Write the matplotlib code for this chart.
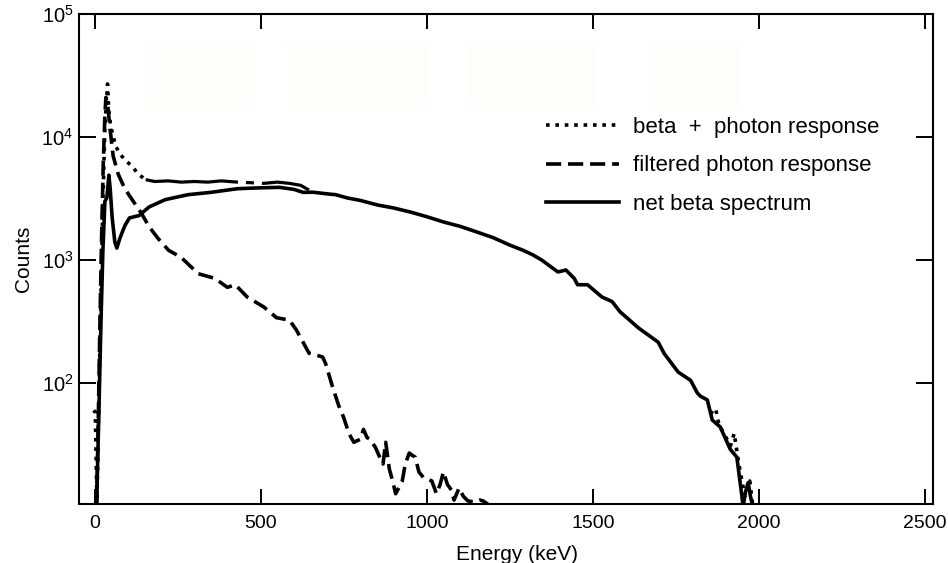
import matplotlib
matplotlib.use("Agg")
import matplotlib.pyplot as plt
from matplotlib.lines import Line2D
from matplotlib.patches import Rectangle
from matplotlib.ticker import LogLocator, NullLocator

plt.rcParams['font.family'] = ['Liberation Sans', 'DejaVu Sans']

# beta + photon response (dotted)
tot_e = [-4, 1, 6, 12, 18, 24, 30, 35, 38, 42, 48, 53, 62, 74, 90, 112, 130, 153,
         180, 220, 260, 300, 340, 380, 429, 470, 508, 550, 586, 620, 645]
tot_c = [60, 58, 11, 80, 500, 3000, 12000, 20000, 27000, 16000, 12000, 10700, 8500,
         7400, 6500, 5800, 5000, 4500, 4350, 4400, 4300, 4350, 4300, 4400, 4300,
         4250, 4200, 4300, 4200, 4050, 3700]
# dotted points visible at the high-energy end
tail_e = [1855, 1862, 1870, 1880, 1915, 1926, 1940, 1958, 1966, 1973, 1982]
tail_c = [56, 60, 62, 46, 31, 39, 22, 12, 13, 16, 10]

# filtered photon response (dashed)
pho_e = [5, 10, 15, 20, 25, 30, 33, 38, 45, 55, 70, 90, 112, 140, 163, 190, 222,
         260, 311, 361, 399, 423, 459, 509, 547, 586, 607, 645, 686, 695, 716, 735,
         750, 765, 780, 800, 809, 820, 829, 845, 858, 868, 876, 887, 897, 906, 915,
         926, 935, 947, 955, 965, 976, 990, 1015, 1029, 1040, 1050, 1062, 1074, 1082,
         1097, 1110, 1124, 1145, 1160, 1170, 1185]
pho_c = [10, 50, 300, 1500, 6000, 15000, 21000, 19000, 12000, 7000, 5000, 3800,
         3100, 2400, 1870, 1500, 1200, 1050, 775, 710, 600, 630, 500, 415, 340, 325,
         270, 175, 163, 144, 93, 65, 52, 39, 33, 35, 42, 36, 35, 30, 25, 22, 33, 20,
         16, 12.6, 14, 16, 22, 27, 26, 25, 19, 17, 16, 12.6, 15, 19, 15, 13.5, 11.2,
         14, 12, 11, 10.8, 11.2, 11, 10.3]

# net beta spectrum (solid)
net_e = [5, 12, 18, 24, 30, 36, 42, 46, 52, 60, 66, 75, 90, 104, 133, 163, 212,
         281, 349, 429, 480, 556, 600, 627, 657, 700, 725, 760, 800, 852, 900, 952,
         1000, 1050, 1100, 1148, 1200, 1248, 1290, 1320, 1346, 1395, 1419, 1444,
         1454, 1484, 1528, 1558, 1582, 1638, 1668, 1697, 1715, 1757, 1795, 1815,
         1825, 1845, 1860, 1884, 1914, 1934, 1944, 1953, 1960, 1968, 1975, 1982]
net_c = [10, 60, 300, 1200, 3000, 3200, 4900, 3800, 2200, 1400, 1250, 1500, 1900,
         2200, 2300, 2700, 3100, 3400, 3550, 3800, 3850, 3900, 3750, 3550, 3560, 3450,
         3400, 3200, 3050, 2800, 2650, 2450, 2250, 2040, 1880, 1700, 1520, 1330, 1200,
         1100, 1000, 800, 830, 710, 630, 630, 500, 460, 380, 280, 245, 215, 174, 123,
         105, 83, 78, 73, 50, 44, 29, 25, 15.5, 10, 13, 15.5, 12, 10]

LW = 2.6
fig = plt.figure(figsize=(9.48, 5.63), dpi=100)
ax = fig.add_axes([79 / 948, 1 - 504 / 563, 854 / 948, 490 / 563])
ax.set_facecolor('none')

# very faint blank boxes near the top of the scan
for x0, x1 in [(146, 250), (288, 425), (470, 595), (650, 740)]:
    fig.add_artist(Rectangle((x0 / 948, 1 - 108 / 563), (x1 - x0) / 948, 66 / 563,
                             transform=fig.transFigure, color='#fffdfa', zorder=-1))

dot_style = dict(color='black', lw=LW, linestyle=(0, (1, 1.6)))
dash_style = dict(color='black', lw=LW, linestyle=(0, (4.2, 1.9)))
solid_style = dict(color='black', lw=LW, linestyle='-')

# in the scan the dots of the plateau run together into a line
k = tot_e.index(153)
ax.plot(tot_e[:k + 1], tot_c[:k + 1], **dot_style)
ax.plot(tot_e[k:], tot_c[k:], color='black', lw=LW - 0.3,
        linestyle=(0, (29, 2.5, 2.5, 2.5, 300)))
ax.plot(tail_e, tail_c, **dot_style)
ax.plot(pho_e, pho_c, **dash_style)
ax.plot(net_e, net_c, **solid_style)

ax.set_yscale('log')
ax.set_xlim(-48, 2525)
ax.set_ylim(10.4, 1e5)
ax.set_xticks([0, 500, 1000, 1500, 2000, 2500])
ax.yaxis.set_major_locator(LogLocator(base=10))
ax.yaxis.set_minor_locator(NullLocator())

for s in ax.spines.values():
    s.set_linewidth(1.5)
ax.tick_params(axis='x', direction='in', top=True, length=10.5, width=1.4,
               labelsize=14, pad=8)
ax.tick_params(axis='y', direction='in', right=True, length=12.5, width=1.4,
               labelsize=14.5, pad=4)

ax.set_xlabel('Energy (keV)', fontsize=15, labelpad=9)
ax.xaxis.label.set_x(0.513)
ax.set_ylabel('Counts', fontsize=15, labelpad=6)

handles = [Line2D([], [], **dot_style), Line2D([], [], **dash_style),
           Line2D([], [], **solid_style)]
labels = ['beta  +  photon response', 'filtered photon response', 'net beta spectrum']
ax.legend(handles, labels, loc='upper left', bbox_to_anchor=(546 / 948, 1 - 117 / 563),
          bbox_transform=fig.transFigure, frameon=False, fontsize=16, borderpad=0,
          borderaxespad=0, handlelength=3.3, handletextpad=0.6, labelspacing=0.78)

fig.savefig('out.png', dpi=100)
